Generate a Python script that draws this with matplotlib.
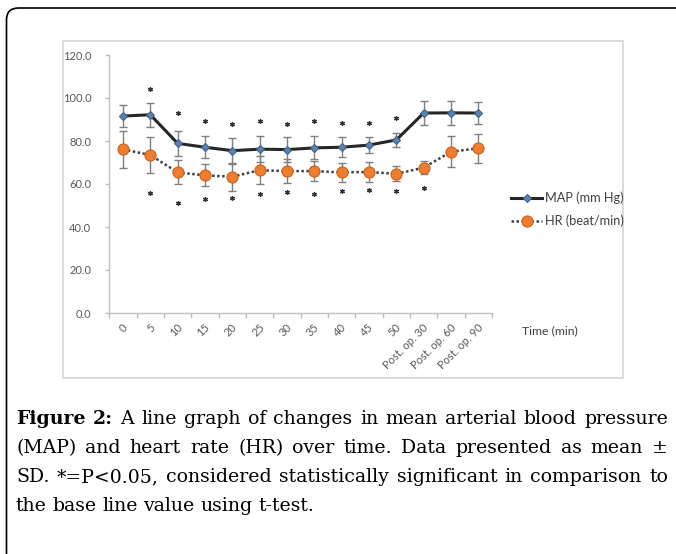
import numpy as np
import matplotlib
matplotlib.use("Agg")
import matplotlib.pyplot as plt
from matplotlib.patches import Rectangle, FancyBboxPatch
from matplotlib.lines import Line2D
import matplotlib.transforms as mtransforms

# ---------------- data ----------------
categories = ['0', '5', '10', '15', '20', '25', '30', '35', '40', '45', '50',
              'Post. op. 30', 'Post. op. 60', 'Post. op. 90']
map_mean = [91.6, 92.2, 78.9, 77.1, 75.5, 76.2, 76.0, 76.8, 77.1, 78.1, 80.5, 93.0, 93.1, 93.0]
map_sd = [5.1, 5.6, 5.8, 5.2, 6.1, 5.9, 5.9, 5.3, 4.7, 3.9, 3.4, 5.5, 5.5, 5.0]
hr_mean = [76.1, 73.5, 65.4, 64.0, 63.4, 66.4, 66.0, 66.0, 65.4, 65.6, 64.7, 67.6, 75.0, 76.6]
hr_sd = [8.7, 8.2, 5.6, 5.1, 6.5, 6.4, 5.4, 4.6, 4.5, 4.5, 3.5, 3.0, 7.3, 6.8]
nan = np.nan
map_star = [nan, 104.3, 92.9, 89.3, 87.8, 89.1, 87.8, 89.3, 88.2, 88.5, 90.9, nan, nan, nan]
hr_star = [nan, 55.7, 51.3, 52.9, 53.6, 55.2, 56.1, 55.2, 56.9, 57.2, 56.9, 58.0, nan, nan]
yticks = [0, 20, 40, 60, 80, 100, 120]
series_labels = ['MAP (mm Hg)', 'HR (beat/min)']
xlabel = 'Time (min)'
caption_lines = [
    [("Figure", 'bold'), ("2:", 'bold'), ("A", 'normal'), ("line", 'normal'), ("graph", 'normal'),
     ("of", 'normal'), ("changes", 'normal'), ("in", 'normal'), ("mean", 'normal'),
     ("arterial", 'normal'), ("blood", 'normal'), ("pressure", 'normal')],
    [(w, 'normal') for w in "(MAP) and heart rate (HR) over time. Data presented as mean ±".split()],
    [(w, 'normal') for w in "SD. *=P<0.05, considered statistically significant in comparison to".split()],
    [(w, 'normal') for w in "the base line value using t-test.".split()],
]

# ---------------- figure ----------------
W, H = 676, 554
fig = plt.figure(figsize=(W / 100, H / 100), dpi=100)
fig.patch.set_facecolor('white')

def fx(px):
    return px / W

def fy(py):
    return 1 - py / H

CHART_FONT = 'Lato'
CAP_FONT = 'DejaVu Serif'

# outer frame (left + top, rounded corner)
frame = FancyBboxPatch((0.065, -1.0), 8.0, 5.46 + 1.0,
                       boxstyle="round,pad=0,rounding_size=0.12",
                       transform=fig.dpi_scale_trans, fill=False,
                       edgecolor='black', linewidth=1.2, zorder=0)
fig.patches.append(frame)

# chart box
fig.patches.append(Rectangle((fx(63), fy(378)), fx(623) - fx(63), fy(41) - fy(378),
                             transform=fig.transFigure, fill=False,
                             edgecolor='#d4d4d4', linewidth=1.2, zorder=0))

ax_l, ax_r, ax_t, ax_b = 109.3, 492, 55, 313
ax = fig.add_axes([fx(ax_l), fy(ax_b), fx(ax_r) - fx(ax_l), fy(ax_t) - fy(ax_b)])
ax.set_facecolor('none')

x = np.arange(len(categories))

ax.errorbar(x, map_mean, yerr=map_sd, fmt='none', ecolor='#7f7f7f',
            elinewidth=1.0, capsize=3, capthick=1.0, zorder=2)
ax.errorbar(x, hr_mean, yerr=hr_sd, fmt='none', ecolor='#7f7f7f',
            elinewidth=1.0, capsize=3, capthick=1.0, zorder=2)

ax.plot(x, map_mean, color='#262626', lw=2.2, marker='D', ms=4.5,
        mfc='#5b82b0', mec='#3f6189', mew=0.8, zorder=4)
ax.plot(x, hr_mean, color='#404040', lw=1.8, ls=(0, (1, 1)), marker='o', ms=8,
        mfc='#ed7d31', mec='#c8641e', mew=0.8, zorder=3)

ax.plot(x, map_star, ls='none', marker=(6, 2, 0), ms=3.5, mew=0.9, color='#333333', zorder=5)
ax.plot(x, hr_star, ls='none', marker=(6, 2, 0), ms=3.5, mew=0.9, color='#333333', zorder=5)

ax.set_xlim(-0.5, len(categories) - 0.5)
ax.set_ylim(0, 120)
ax.set_yticks(yticks)
ax.set_yticklabels([f"{v:.1f}" for v in yticks], fontsize=8, color='#595959', family=CHART_FONT)
ax.set_xticks(x)
ax.set_xticklabels(categories, rotation=45, ha='right', va='center',
                   rotation_mode='anchor', fontsize=8, color='#595959', family=CHART_FONT)
ax.set_xticks(np.arange(-0.5, len(categories), 1.0), minor=True)
ax.tick_params(axis='x', which='major', length=0, pad=9)
ax.tick_params(axis='x', which='minor', length=3.5, color='#bfbfbf', width=1)
ax.tick_params(axis='y', length=3, color='#bfbfbf', width=1, pad=10)
offset = mtransforms.ScaledTranslation(3 / 100, 0, fig.dpi_scale_trans)
for lab in ax.get_xticklabels():
    lab.set_transform(lab.get_transform() + offset)
for side in ['top', 'right']:
    ax.spines[side].set_visible(False)
for side in ['left', 'bottom']:
    ax.spines[side].set_color('#bfbfbf')
    ax.spines[side].set_linewidth(1.0)

# legend
handles = [
    Line2D([], [], color='#262626', lw=2.2, marker='D', ms=4.5, mfc='#5b82b0', mec='#3f6189', mew=0.8),
    Line2D([], [], color='#404040', lw=1.8, ls=(0, (1, 1)), marker='o', ms=8, mfc='#ed7d31', mec='#c8641e', mew=0.8),
]
leg = fig.legend(handles, series_labels, loc='center left', bbox_to_anchor=(fx(505), fy(209.5)),
                 frameon=False, prop={'family': CHART_FONT, 'size': 9.2},
                 handlelength=2.4, handletextpad=0.2, labelspacing=0.8, borderpad=0)
for t in leg.get_texts():
    t.set_color('#404040')

fig.text(fx(522), fy(331), xlabel, fontsize=8.8, color='#404040', family=CHART_FONT,
         ha='left', va='center')

# caption (justified)
renderer = fig.canvas.get_renderer()
x0, x1 = 16, 668
# fit caption font so the longest line (third) has near-normal spacing
probe = fig.text(0, 0, "SD. *=P<0.05, considered statistically significant in comparison to",
                 fontsize=10, family=CAP_FONT)
probe_w = probe.get_window_extent(renderer).width
probe.remove()
cap_size = 10 * (x1 - x0 - 10) / probe_w
baselines = [424, 453, 482, 511]
for li, (words, base) in enumerate(zip(caption_lines, baselines)):
    texts = []
    for w, wt in words:
        t = fig.text(0, fy(base), w, fontsize=cap_size, family=CAP_FONT, weight=wt,
                     color='black', ha='left', va='baseline')
        texts.append(t)
    widths = [t.get_window_extent(renderer).width for t in texts]
    if li < len(caption_lines) - 1:
        gap = (x1 - x0 - sum(widths)) / (len(words) - 1)
    else:
        gap = cap_size * 100 / 72 * 0.3
    cur = x0
    for t, wdt in zip(texts, widths):
        t.set_x(fx(cur))
        cur += wdt + gap

fig.savefig('out.png', dpi=100, facecolor='white')
